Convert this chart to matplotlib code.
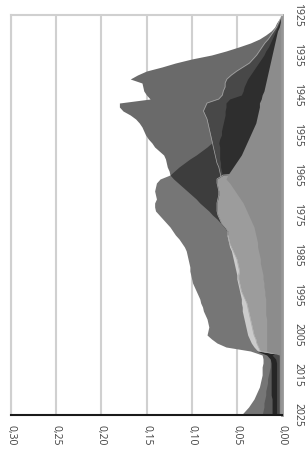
import numpy as np
import matplotlib
matplotlib.use("Agg")
import matplotlib.pyplot as plt

plt.rcParams['font.family'] = ['Open Sans', 'DejaVu Sans']

# each series: first year, then one value per year (areas overlap, all drawn from 0)
a_start = 1925
a_vals = [0.000, 0.003, 0.006, 0.008, 0.012, 0.018, 0.025, 0.035, 0.048, 0.062,
          0.078, 0.100, 0.118, 0.133, 0.150, 0.160, 0.168, 0.155, 0.154, 0.153,
          0.150, 0.146, 0.180, 0.180, 0.176, 0.168, 0.162, 0.158, 0.155, 0.153,
          0.151, 0.148, 0.144, 0.141, 0.136, 0.131, 0.129, 0.128, 0.127, 0.125,
          0.124, 0.000]

e_start = 1964
e_vals = [0.000, 0.124, 0.135, 0.139, 0.140, 0.141, 0.140, 0.139, 0.141, 0.141,
          0.140, 0.136, 0.132, 0.128, 0.124, 0.121, 0.118, 0.114, 0.111, 0.108,
          0.106, 0.105, 0.104, 0.103, 0.102, 0.102, 0.101, 0.100, 0.099, 0.097,
          0.095, 0.093, 0.091, 0.090, 0.088, 0.087, 0.085, 0.083, 0.082, 0.081,
          0.082, 0.083, 0.078, 0.072, 0.062, 0.035, 0.022, 0.021, 0.021, 0.022,
          0.022, 0.022, 0.023, 0.024, 0.025, 0.027, 0.029, 0.031, 0.034, 0.037,
          0.041, 0.045]

f_start = 1954
f_vals = [0.000, 0.070, 0.075, 0.078, 0.083, 0.089, 0.095, 0.102, 0.108, 0.114,
          0.119, 0.124, 0.120, 0.115, 0.110, 0.105, 0.100, 0.095, 0.091, 0.086,
          0.081, 0.077, 0.072, 0.068, 0.064, 0.061, 0.000]

b_start = 1925
b_vals = [0.000, 0.002, 0.004, 0.006, 0.009, 0.012, 0.015, 0.019, 0.022, 0.025,
          0.028, 0.032, 0.036, 0.043, 0.050, 0.056, 0.061, 0.063, 0.063, 0.065,
          0.066, 0.070, 0.083, 0.085, 0.087, 0.085, 0.083, 0.082, 0.081, 0.080,
          0.079, 0.078, 0.077, 0.076, 0.075, 0.074, 0.073, 0.072, 0.070, 0.069,
          0.068, 0.067, 0.000]

c_start = 1925
c_vals = [0.000, 0.001, 0.003, 0.005, 0.007, 0.009, 0.011, 0.013, 0.015, 0.018,
          0.020, 0.023, 0.026, 0.029, 0.032, 0.035, 0.038, 0.040, 0.042, 0.043,
          0.045, 0.058, 0.062, 0.062, 0.063, 0.063, 0.064, 0.065, 0.066, 0.067,
          0.067, 0.069, 0.070, 0.069, 0.069, 0.069, 0.069, 0.068, 0.068, 0.067,
          0.066, 0.064, 0.000]

i2_start = 2009
i2_vals = [0.000, 0.014, 0.013, 0.013, 0.013, 0.014, 0.015, 0.016, 0.016, 0.017,
           0.018, 0.018, 0.019, 0.020, 0.020, 0.021, 0.022]

j_start = 2008
j_vals = [0.000, 0.028, 0.017, 0.013, 0.012, 0.012, 0.012, 0.012, 0.012, 0.012,
          0.012, 0.012, 0.012, 0.011, 0.011, 0.011, 0.011, 0.011]

h_start = 1979
h_vals = [0.000, 0.061, 0.060, 0.059, 0.058, 0.056, 0.055, 0.054, 0.053, 0.052,
          0.051, 0.050, 0.050, 0.049, 0.048, 0.047, 0.046, 0.045, 0.045, 0.044,
          0.044, 0.043, 0.042, 0.041, 0.040, 0.039, 0.038, 0.036, 0.034, 0.031,
          0.027, 0.000]

g_start = 1964
g_vals = [0.000, 0.065, 0.072, 0.072, 0.071, 0.070, 0.070, 0.071, 0.072, 0.072,
          0.072, 0.071, 0.069, 0.067, 0.063, 0.060, 0.060, 0.059, 0.058, 0.056,
          0.054, 0.052, 0.050, 0.049, 0.048, 0.047, 0.048, 0.048, 0.047, 0.046,
          0.045, 0.043, 0.041, 0.039, 0.038, 0.037, 0.036, 0.035, 0.034, 0.033,
          0.032, 0.031, 0.029, 0.028, 0.026, 0.024, 0.000]

k_start = 2009
k_vals = [0.000, 0.011, 0.007, 0.006, 0.006, 0.006, 0.006, 0.006, 0.006, 0.006,
          0.006, 0.006, 0.006, 0.006, 0.006, 0.006, 0.006]

d_start = 1925
d_vals = [0.000, 0.001, 0.002, 0.003, 0.005, 0.006, 0.007, 0.008, 0.009, 0.010,
          0.011, 0.012, 0.013, 0.014, 0.015, 0.016, 0.017, 0.018, 0.019, 0.020,
          0.022, 0.023, 0.025, 0.025, 0.026, 0.027, 0.028, 0.029, 0.031, 0.033,
          0.035, 0.037, 0.039, 0.041, 0.043, 0.045, 0.048, 0.051, 0.054, 0.057,
          0.060, 0.062, 0.058, 0.055, 0.052, 0.049, 0.046, 0.043, 0.041, 0.039,
          0.037, 0.035, 0.033, 0.031, 0.030, 0.029, 0.028, 0.027, 0.027, 0.026,
          0.025, 0.024, 0.024, 0.023, 0.022, 0.021, 0.021, 0.020, 0.020, 0.019,
          0.019, 0.018, 0.018, 0.018, 0.018, 0.018, 0.017, 0.017, 0.017, 0.017,
          0.017, 0.017, 0.017, 0.017, 0.017, 0.003, 0.003, 0.003, 0.003, 0.003,
          0.003, 0.003, 0.003, 0.003, 0.003, 0.003, 0.003, 0.003, 0.003, 0.003,
          0.003]

year_ticks = list(range(1925, 2026, 10))
value_ticks = [0.30, 0.25, 0.20, 0.15, 0.10, 0.05, 0.00]

# draw order matters: later areas sit on top of earlier ones
layers = [
    (e_start, e_vals, '#767676'),
    (a_start, a_vals, '#6a6a6a'),
    (f_start, f_vals, '#3d3d3d'),
    (b_start, b_vals, '#484848'),
    (c_start, c_vals, '#2e2e2e'),
    (i2_start, i2_vals, '#5a5a5a'),
    (j_start, j_vals, '#262626'),
    (h_start, h_vals, '#cbcbcb'),
    (g_start, g_vals, '#9c9c9c'),
    (k_start, k_vals, '#4a4a4a'),
    (d_start, d_vals, '#8c8c8c'),
]

fig = plt.figure(figsize=(3.06, 4.53), dpi=100)
ax = fig.add_axes([11 / 306, 38 / 453, 271 / 306, 400 / 453])

for start, vals, col in layers:
    yrs = np.arange(start, start + len(vals))
    ax.fill_betweenx(yrs, 0, vals, color=col, lw=0, zorder=2)
    if vals is b_vals or vals is g_vals:
        ax.plot(vals, yrs, color='#a8a8a8', lw=0.5, zorder=2)

ax.set_xlim(0.30, 0.0)
ax.set_ylim(2025, 1925)

ax.set_xticks(value_ticks)
ax.set_xticklabels([f"{v:.2f}".replace('.', ',') for v in value_ticks],
                   rotation=-90, ha='center', va='top')
ax.yaxis.tick_right()
ax.set_yticks(year_ticks)
ax.set_yticklabels([str(y) for y in year_ticks], rotation=-90, ha='left', va='center')
ax.tick_params(length=0, labelsize=7.5, labelcolor='#404040')
ax.tick_params(axis='x', pad=7)
ax.tick_params(axis='y', pad=7.5)

ax.xaxis.grid(True, color='#d0d0d0', lw=1.5)
ax.set_axisbelow(True)

ax.spines['top'].set_color('#d0d0d0')
ax.spines['top'].set_linewidth(1.5)
ax.spines['left'].set_color('#d0d0d0')
ax.spines['left'].set_linewidth(1.5)
ax.spines['bottom'].set_color('#1a1a1a')
ax.spines['bottom'].set_linewidth(1.5)
ax.spines['right'].set_color('#969696')
ax.spines['right'].set_linewidth(2)

fig.savefig('out.png', dpi=100)
